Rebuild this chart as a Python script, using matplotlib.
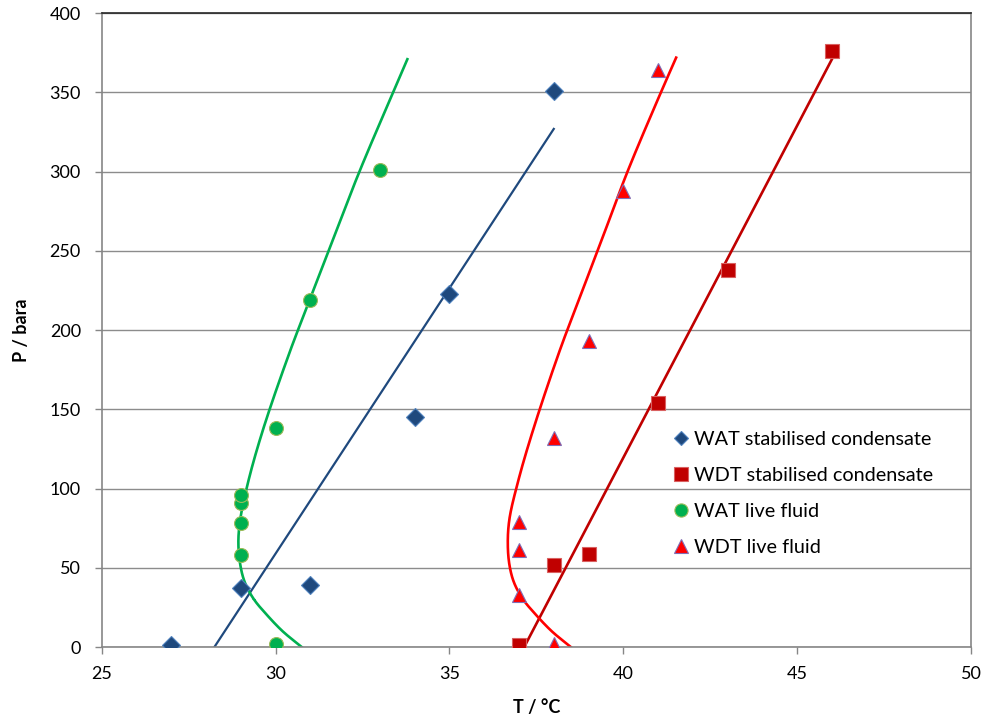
import numpy as np
import matplotlib
matplotlib.use("Agg")
import matplotlib.pyplot as plt
from matplotlib.lines import Line2D

plt.rcParams['font.family'] = ['Lato', 'DejaVu Sans']

# Measured appearance temperatures (T / °C) and pressures (P / bara)
wat_stab_T = [27, 29, 31, 34, 35, 38]
wat_stab_P = [1, 37, 39, 145, 223, 351]

wdt_stab_T = [37, 38, 39, 41, 43, 46]
wdt_stab_P = [1, 52, 59, 154, 238, 376]

wat_live_T = [30, 29, 29, 29, 29, 30, 31, 33]
wat_live_P = [2, 58, 78, 91, 96, 138, 219, 301]

wdt_live_T = [38, 37, 37, 37, 38, 39, 40, 41]
wdt_live_P = [2, 33, 61, 79, 132, 193, 288, 364]

# Straight trend lines for the stabilised condensate (end points)
wat_stab_trend_T = [28.24, 38.0]
wat_stab_trend_P = [0, 327]
wdt_stab_trend_T = [37.15, 46.0]
wdt_stab_trend_P = [0, 371]

# Curved trend lines for the live fluid, sampled along the curve
wat_live_curve_P = [0, 10, 21, 30, 40, 50, 65, 80, 105, 138, 187, 219, 250, 300, 345, 371]
wat_live_curve_T = [30.75, 30.2, 29.72, 29.38, 29.13, 29.0, 28.93, 28.98, 29.22, 29.65,
                    30.42, 30.98, 31.52, 32.41, 33.28, 33.79]
wdt_live_curve_P = [0, 10, 21, 30, 40, 50, 63, 80, 105, 138, 187, 219, 257, 300, 350, 372]
wdt_live_curve_T = [38.49, 37.94, 37.46, 37.12, 36.87, 36.74, 36.68, 36.72, 36.98, 37.42,
                    38.17, 38.72, 39.38, 40.12, 41.08, 41.52]

legend_labels = ["WAT stabilised condensate", "WDT stabilised condensate",
                 "WAT live fluid", "WDT live fluid"]

x_ticks = [25, 30, 35, 40, 45, 50]
y_ticks = [0, 50, 100, 150, 200, 250, 300, 350, 400]

blue, blue_edge = "#1F497D", "#4F81BD"
dred, dred_edge = "#C00000", "#D96060"
green, green_edge = "#00B050", "#9BBB59"
red, red_edge = "#FF0000", "#7F6FB8"

fig = plt.figure(figsize=(9.82, 7.17), dpi=100)
ax = fig.add_axes([0.1036, 0.0976, 0.8852, 0.8839])


def smooth_curve(T, P, n=40, alpha=0.5):
    """Centripetal Catmull-Rom curve through the sampled (T, P) points."""
    scale = np.array([21.95, 1.0])  # roughly equal on-screen units
    pts = np.column_stack([T, P]) * scale
    ext = np.vstack([2 * pts[0] - pts[1], pts, 2 * pts[-1] - pts[-2]])
    segs = []
    for i in range(1, len(ext) - 2):
        p0, p1, p2, p3 = ext[i - 1], ext[i], ext[i + 1], ext[i + 2]
        t0 = 0.0
        t1 = t0 + np.linalg.norm(p1 - p0) ** alpha
        t2 = t1 + np.linalg.norm(p2 - p1) ** alpha
        t3 = t2 + np.linalg.norm(p3 - p2) ** alpha
        t = np.linspace(t1, t2, n)[:, None]
        a1 = (t1 - t) / (t1 - t0) * p0 + (t - t0) / (t1 - t0) * p1
        a2 = (t2 - t) / (t2 - t1) * p1 + (t - t1) / (t2 - t1) * p2
        a3 = (t3 - t) / (t3 - t2) * p2 + (t - t2) / (t3 - t2) * p3
        b1 = (t2 - t) / (t2 - t0) * a1 + (t - t0) / (t2 - t0) * a2
        b2 = (t3 - t) / (t3 - t1) * a2 + (t - t1) / (t3 - t1) * a3
        c = (t2 - t) / (t2 - t1) * b1 + (t - t1) / (t2 - t1) * b2
        segs.append(c)
    out = np.vstack(segs) / scale
    return out[:, 0], out[:, 1]


# Trend lines
ax.plot(wat_stab_trend_T, wat_stab_trend_P, color=blue, lw=1.6, zorder=2)
ax.plot(wdt_stab_trend_T, wdt_stab_trend_P, color=dred, lw=1.9, zorder=2)
tg, pg = smooth_curve(wat_live_curve_T, wat_live_curve_P)
ax.plot(tg, pg, color=green, lw=1.9, zorder=2)
tr, pr = smooth_curve(wdt_live_curve_T, wdt_live_curve_P)
ax.plot(tr, pr, color=red, lw=1.9, zorder=2)

# Measured points
ax.plot(wat_stab_T, wat_stab_P, ls='none', marker='D', ms=9, mfc=blue, mec=blue_edge, mew=0.8, zorder=3)
ax.plot(wdt_stab_T, wdt_stab_P, ls='none', marker='s', ms=10, mfc=dred, mec=dred_edge, mew=0.8, zorder=3)
ax.plot(wat_live_T, wat_live_P, ls='none', marker='o', ms=10, mfc=green, mec=green_edge, mew=0.8, zorder=3)
ax.plot(wdt_live_T, wdt_live_P, ls='none', marker='^', ms=10.5, mfc=red, mec=red_edge, mew=0.8, zorder=3)

ax.set_xlim(25, 50)
ax.set_ylim(0, 400)
ax.set_xticks(x_ticks)
ax.set_yticks(y_ticks)
ax.yaxis.grid(True, color="#8C8C8C", lw=1.0)
ax.set_axisbelow(True)

for side in ['left', 'bottom', 'right']:
    ax.spines[side].set_color("#868686")
    ax.spines[side].set_linewidth(1.2)
ax.spines['top'].set_color("#262626")
ax.spines['top'].set_linewidth(1.2)

ax.tick_params(axis='both', direction='out', length=5, width=1, color="#868686",
               labelsize=13, labelcolor="black")
ax.tick_params(axis='y', pad=10)
ax.tick_params(axis='x', pad=9)

ax.set_xlabel("T / °C", fontsize=13, fontweight='bold', labelpad=12)
ax.set_ylabel("P / bara", fontsize=13, fontweight='bold', labelpad=14)

handles = [
    Line2D([], [], ls='none', marker='D', ms=7.5, mfc=blue, mec=blue_edge, mew=0.8),
    Line2D([], [], ls='none', marker='s', ms=9.5, mfc=dred, mec=dred_edge, mew=0.8),
    Line2D([], [], ls='none', marker='o', ms=9.5, mfc=green, mec=green_edge, mew=0.8),
    Line2D([], [], ls='none', marker='^', ms=9.5, mfc=red, mec=red_edge, mew=0.8),
]
ax.legend(handles, legend_labels, loc='upper left', bbox_to_anchor=(0.650, 0.353),
          frameon=False, fontsize=14.3, handlelength=0.6, handletextpad=0.35,
          labelspacing=0.95, borderaxespad=0)

fig.savefig("out.png", dpi=100)
